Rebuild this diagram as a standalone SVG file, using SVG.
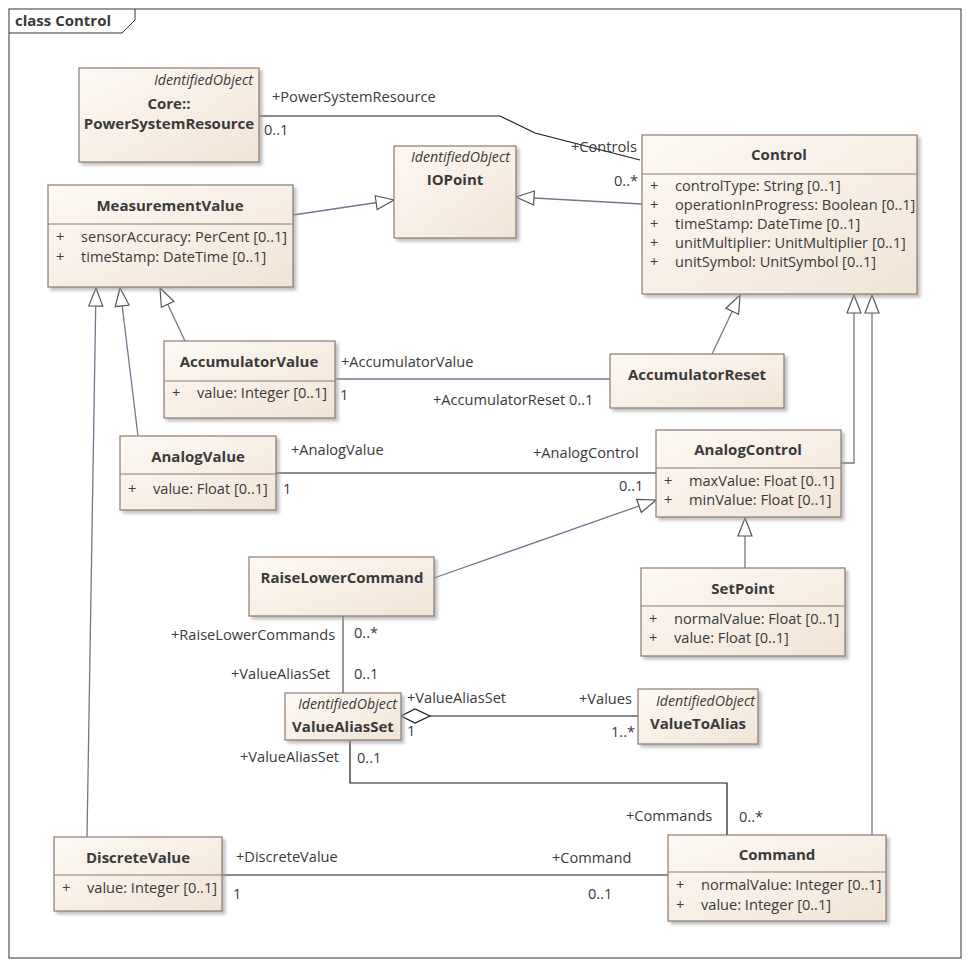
<svg xmlns="http://www.w3.org/2000/svg" width="969" height="966" viewBox="0 0 969 966">
<style>
text{font-family:"Open Sans","Liberation Sans",sans-serif;font-size:14.6px;fill:#3a3a3a}
.b{font-weight:bold;font-size:15px}
.i{font-style:italic;font-size:14.2px}
.box{fill:url(#g);stroke:#8c7b70;stroke-width:1.2;filter:url(#sh)}
.div{stroke:#8c7b70;stroke-width:1}
.as{fill:none;stroke:#1a1a1a;stroke-width:1.2}
.ge{fill:none;stroke:#6b7a8f;stroke-width:1.3;marker-end:url(#tri)}
</style>
<defs>
<linearGradient id="g" x1="0" y1="0" x2="1" y2="1"><stop offset="0" stop-color="#fdf9f4"/><stop offset="1" stop-color="#f2e4d6"/></linearGradient>
<filter id="sh" x="-10%" y="-10%" width="130%" height="130%"><feDropShadow dx="3" dy="3" stdDeviation="1.5" flood-color="#999" flood-opacity="0.6"/></filter>
<marker id="tri" viewBox="0 0 20 16" refX="19" refY="8" markerWidth="20" markerHeight="16" markerUnits="userSpaceOnUse" orient="auto"><path d="M1,1 L19,8 L1,15 Z" fill="#fff" stroke="#555" stroke-width="1.2"/></marker>
</defs>
<rect width="969" height="966" fill="#fff"/>
<rect x="9" y="9" width="952" height="949" fill="none" stroke="#333"/>
<path d="M9,33 H122 L135,20 V9" fill="none" stroke="#333"/>
<text x="15" y="26" font-weight="bold" style="font-size:15px">class Control</text>

<g id="connectors">
<path class="as" d="M259,116 H500 L535,133 L640,160"/>
<path class="ge" d="M293,215 L394,200"/>
<path class="ge" d="M642,204 L516,197"/>
<path class="ge" d="M185,341 L160,288"/>
<path class="ge" d="M138,436 L120,288"/>
<path class="ge" d="M87,837 L96,288"/>
<path class="ge" d="M712,354 L740,295"/>
<path class="ge" d="M841,463 H854 V295"/>
<path class="ge" d="M872,835 V295"/>
<path class="ge" d="M745,568 V518"/>
<path class="ge" d="M434,578 L656,500"/>
<path fill="none" stroke="#6b7a8f" stroke-width="1.3" d="M335,379 H610"/>
<path class="as" d="M276,473 H656"/>
<path fill="none" stroke="#555" stroke-width="1.2" d="M343,616 V693"/>
<path class="as" d="M430,716 H638"/>
<path d="M401,716 L415,709 L430,716 L415,723 Z" fill="#fff" stroke="#1a1a1a" stroke-width="1.2"/>
<path class="as" d="M350,740 V783 H727 V835"/>
<path class="as" d="M222,875 H668"/>
<text x="272" y="102">+PowerSystemResource</text>
<text x="264" y="135">0..1</text>
<text x="571" y="152">+Controls</text>
<text x="614" y="186">0..*</text>
<text x="341" y="367">+AccumulatorValue</text>
<text x="340" y="400">1</text>
<text x="433" y="405">+AccumulatorReset 0..1</text>
<text x="291" y="455">+AnalogValue</text>
<text x="283" y="494">1</text>
<text x="533" y="458">+AnalogControl</text>
<text x="619" y="491">0..1</text>
<text x="171" y="640">+RaiseLowerCommands</text>
<text x="354" y="638">0..*</text>
<text x="231" y="679">+ValueAliasSet</text>
<text x="354" y="679">0..1</text>
<text x="407" y="703">+ValueAliasSet</text>
<text x="407" y="736">1</text>
<text x="579" y="704">+Values</text>
<text x="611" y="737">1..*</text>
<text x="240" y="762">+ValueAliasSet</text>
<text x="357" y="763">0..1</text>
<text x="626" y="821">+Commands</text>
<text x="739" y="822">0..*</text>
<text x="236" y="862">+DiscreteValue</text>
<text x="233" y="899">1</text>
<text x="552" y="863">+Command</text>
<text x="588" y="899">0..1</text>
</g>

<g id="PowerSystemResource"><rect class="box" x="79" y="68" width="180" height="94"/>
<text x="253" y="85" text-anchor="end" class="i">IdentifiedObject</text>
<text x="169" y="109" text-anchor="middle" class="b">Core::</text>
<text x="169" y="129" text-anchor="middle" class="b">PowerSystemResource</text></g>

<g id="MeasurementValue"><rect class="box" x="48" y="185" width="245" height="102"/>
<line class="div" x1="48" y1="224" x2="293" y2="224"/>
<text x="170" y="211" text-anchor="middle" class="b">MeasurementValue</text>
<text x="56" y="242">+</text><text x="81" y="242">sensorAccuracy: PerCent [0..1]</text>
<text x="56" y="262">+</text><text x="81" y="262">timeStamp: DateTime [0..1]</text></g>

<g id="IOPoint"><rect class="box" x="394" y="146" width="122" height="92"/>
<text x="510" y="162" text-anchor="end" class="i">IdentifiedObject</text>
<text x="455" y="185" text-anchor="middle" class="b">IOPoint</text></g>

<g id="Control"><rect class="box" x="642" y="135" width="275" height="159"/>
<line class="div" x1="642" y1="174" x2="917" y2="174"/>
<text x="779" y="160" text-anchor="middle" class="b">Control</text>
<text x="650" y="191">+</text><text x="675" y="191">controlType: String [0..1]</text>
<text x="650" y="210">+</text><text x="675" y="210">operationInProgress: Boolean [0..1]</text>
<text x="650" y="229">+</text><text x="675" y="229">timeStamp: DateTime [0..1]</text>
<text x="650" y="248">+</text><text x="675" y="248">unitMultiplier: UnitMultiplier [0..1]</text>
<text x="650" y="267">+</text><text x="675" y="267">unitSymbol: UnitSymbol [0..1]</text></g>

<g id="AccumulatorValue"><rect class="box" x="164" y="341" width="171" height="77"/>
<line class="div" x1="164" y1="381" x2="335" y2="381"/>
<text x="249" y="367" text-anchor="middle" class="b">AccumulatorValue</text>
<text x="172" y="398">+</text><text x="197" y="398">value: Integer [0..1]</text></g>

<g id="AccumulatorReset"><rect class="box" x="610" y="354" width="174" height="54"/>
<text x="697" y="380" text-anchor="middle" class="b">AccumulatorReset</text></g>

<g id="AnalogValue"><rect class="box" x="120" y="436" width="156" height="74"/>
<line class="div" x1="120" y1="474" x2="276" y2="474"/>
<text x="198" y="462" text-anchor="middle" class="b">AnalogValue</text>
<text x="128" y="494">+</text><text x="153" y="494">value: Float [0..1]</text></g>

<g id="AnalogControl"><rect class="box" x="656" y="430" width="185" height="87"/>
<line class="div" x1="656" y1="468" x2="841" y2="468"/>
<text x="748" y="455" text-anchor="middle" class="b">AnalogControl</text>
<text x="664" y="486">+</text><text x="689" y="486">maxValue: Float [0..1]</text>
<text x="664" y="505">+</text><text x="689" y="505">minValue: Float [0..1]</text></g>

<g id="RaiseLowerCommand"><rect class="box" x="249" y="557" width="185" height="59"/>
<text x="342" y="583" text-anchor="middle" class="b">RaiseLowerCommand</text></g>

<g id="SetPoint"><rect class="box" x="641" y="568" width="204" height="88"/>
<line class="div" x1="641" y1="606" x2="845" y2="606"/>
<text x="743" y="594" text-anchor="middle" class="b">SetPoint</text>
<text x="649" y="624">+</text><text x="674" y="624">normalValue: Float [0..1]</text>
<text x="649" y="643">+</text><text x="674" y="643">value: Float [0..1]</text></g>

<g id="ValueAliasSet"><rect class="box" x="285" y="693" width="116" height="47"/>
<text x="397" y="709" text-anchor="end" class="i">IdentifiedObject</text>
<text x="343" y="732" text-anchor="middle" class="b">ValueAliasSet</text></g>

<g id="ValueToAlias"><rect class="box" x="638" y="689" width="120" height="55"/>
<text x="755" y="706" text-anchor="end" class="i">IdentifiedObject</text>
<text x="698" y="729" text-anchor="middle" class="b">ValueToAlias</text></g>

<g id="DiscreteValue"><rect class="box" x="54" y="837" width="168" height="74"/>
<line class="div" x1="54" y1="875" x2="222" y2="875"/>
<text x="138" y="863" text-anchor="middle" class="b">DiscreteValue</text>
<text x="62" y="893">+</text><text x="87" y="893">value: Integer [0..1]</text></g>

<g id="Command"><rect class="box" x="668" y="835" width="218" height="86"/>
<line class="div" x1="668" y1="872" x2="886" y2="872"/>
<text x="777" y="860" text-anchor="middle" class="b">Command</text>
<text x="676" y="890">+</text><text x="701" y="890">normalValue: Integer [0..1]</text>
<text x="676" y="910">+</text><text x="701" y="910">value: Integer [0..1]</text></g>
</svg>
